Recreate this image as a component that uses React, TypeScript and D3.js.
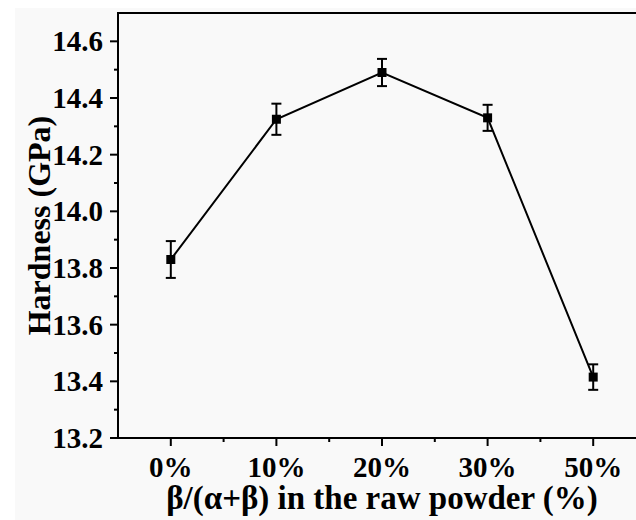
import React from "react";
import * as d3 from "d3";

const categories = ["0%", "10%", "20%", "30%", "50%"];
const hardness = [13.83, 14.325, 14.49, 14.33, 13.415];
const errors = [0.065, 0.055, 0.048, 0.046, 0.045];
const yTicks = [13.2, 13.4, 13.6, 13.8, 14.0, 14.2, 14.4, 14.6];
const yMinor = [13.3, 13.5, 13.7, 13.9, 14.1, 14.3, 14.5];

const W = 636;
const H = 520;
const left = 118;
const right = 646;
const top = 13;
const bottom = 438;
const font = "'Liberation Serif', 'Times New Roman', serif";

export default function App() {
  const x = d3.scalePoint<string>().domain(categories).range([left, right]).padding(0.5);
  const step = x.step();
  const y = d3.scaleLinear().domain([13.2, 14.7]).range([bottom, top]);
  const line = d3
    .line<number>()
    .x((_, i) => x(categories[i]) as number)
    .y((d) => y(d));
  const xMinor = categories.map((c) => (x(c) as number) + step / 2);

  return (
    <div style={{ position: "absolute", left: 0, top: 0 }}>
      <svg width={W} height={H} style={{ display: "block" }}>
        <rect x={0} y={0} width={W} height={H} fill="#ffffff" />
        <rect x={15} y={8} width={W - 15} height={H - 8} fill="#f9f9f9" />
        {/* axes frame */}
        <line x1={left} x2={W} y1={top} y2={top} stroke="#000" strokeWidth={2} />
        <line x1={left} x2={left} y1={top - 1} y2={bottom + 1} stroke="#000" strokeWidth={2} />
        <line x1={left - 1} x2={W} y1={bottom} y2={bottom} stroke="#000" strokeWidth={2} />
        {/* y ticks */}
        {yTicks.map((t) => (
          <g key={"y" + t}>
            <line x1={left - 8} x2={left} y1={y(t)} y2={y(t)} stroke="#000" strokeWidth={2} />
            <text
              x={103}
              y={y(t)}
              dy="0.35em"
              textAnchor="end"
              fontFamily={font}
              fontWeight="bold"
              fontSize={29}
              fill="#000"
            >
              {t.toFixed(1)}
            </text>
          </g>
        ))}
        {yMinor.map((t) => (
          <line key={"ym" + t} x1={left - 4} x2={left} y1={y(t)} y2={y(t)} stroke="#000" strokeWidth={2} />
        ))}
        {/* x ticks */}
        {categories.map((c) => (
          <g key={"x" + c}>
            <line x1={x(c)} x2={x(c)} y1={bottom} y2={bottom + 8} stroke="#000" strokeWidth={2} />
            <text
              x={x(c)}
              y={477}
              textAnchor="middle"
              fontFamily={font}
              fontWeight="bold"
              fontSize={29}
              fill="#000"
            >
              {c}
            </text>
          </g>
        ))}
        {xMinor.map((m, i) => (
          <line key={"xm" + i} x1={m} x2={m} y1={bottom} y2={bottom + 4} stroke="#000" strokeWidth={2} />
        ))}
        {/* axis titles */}
        <text
          x={(left + right) / 2}
          y={509}
          textAnchor="middle"
          fontFamily={font}
          fontWeight="bold"
          fontSize={33}
          fill="#000"
        >
          β/(α+β) in the raw powder (%)
        </text>
        <text
          transform={`translate(50, ${(top + bottom) / 2}) rotate(-90)`}
          textAnchor="middle"
          fontFamily={font}
          fontWeight="bold"
          fontSize={32}
          fill="#000"
        >
          Hardness (GPa)
        </text>
        {/* data line */}
        <path d={line(hardness) || ""} fill="none" stroke="#000" strokeWidth={2} />
        {/* error bars */}
        {hardness.map((v, i) => {
          const cx = x(categories[i]) as number;
          const y1 = y(v + errors[i]);
          const y2 = y(v - errors[i]);
          return (
            <g key={"e" + i} stroke="#000" strokeWidth={2}>
              <line x1={cx} x2={cx} y1={y1} y2={y2} />
              <line x1={cx - 5} x2={cx + 5} y1={y1} y2={y1} />
              <line x1={cx - 5} x2={cx + 5} y1={y2} y2={y2} />
            </g>
          );
        })}
        {/* markers */}
        {hardness.map((v, i) => (
          <rect
            key={"m" + i}
            x={(x(categories[i]) as number) - 4.5}
            y={y(v) - 4.5}
            width={9}
            height={9}
            fill="#000"
          />
        ))}
      </svg>
    </div>
  );
}
